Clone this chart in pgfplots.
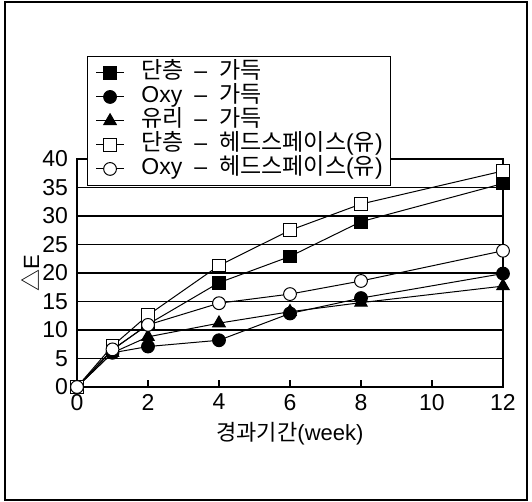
\documentclass[border=0pt]{standalone}
\usepackage{fontspec}
\setmainfont{Liberation Sans}
\newfontfamily\kr{Noto Sans CJK KR}
\usepackage{pgfplots}
\pgfplotsset{compat=1.18}
\newcommand{\ent}[2]{\hspace*{8.5pt}\makebox[26.5pt][l]{#1}--\hspace{6pt}{\kr #2}}
\begin{document}
\begin{tikzpicture}
\begin{axis}[
  scale only axis, width=213pt, height=114pt,
  xmin=0, xmax=12, ymin=0, ymax=40,
  xtick={0,2,...,12}, ytick={0,5,...,40},
  ymajorgrids, grid style={black, line width=0.75pt},
  axis line style={line width=0.75pt},
  xtick pos=bottom, tick align=inside, major tick length=3.5pt,
  xtick style={black, line width=0.6pt},
  ytick style={draw=none},
  tick label style={font=\fontsize{11.5}{12}\selectfont},
  yticklabel style={xshift=-1pt},
  /pgf/number format/assume math mode=true,
  clip=false,
  xlabel={{\kr 경과기간}(week)},
  ylabel={{\kr △}E},
  label style={font=\fontsize{11}{12}\selectfont},
  xlabel style={at={(axis description cs:0.5,-0.206)}, anchor=center},
  ylabel style={at={(axis description cs:-0.110,0.5)}, anchor=center},
  legend style={at={(0.0235,1.452)}, anchor=north west, draw=black, line width=0.6pt,
    font=\fontsize{11.5}{11.5}\selectfont, inner xsep=4pt, inner ysep=2.5pt, row sep=0.6pt,
    nodes={inner sep=0pt, text height=8.6pt, text depth=2.8pt}},
  legend cell align=left,
  legend image code/.code={\draw[mark repeat=2,mark phase=2] plot coordinates {(0cm,0cm)(0.245cm,0cm)(0.49cm,0cm)};},
  every axis plot/.append style={black, line width=0.5pt, mark size=3.2pt},
]
\addplot[mark=square*, mark options={solid, fill=black}] coordinates {(0,0)(1,6.5)(2,11)(4,18.3)(6,22.9)(8,29)(12,35.7)};
\addlegendentry{\ent{{\kr 단층}}{가득}}
\addplot[mark=*, mark options={solid, fill=black}] coordinates {(0,0)(1,6)(2,7.1)(4,8.2)(6,12.9)(8,15.6)(12,19.9)};
\addlegendentry{\ent{Oxy}{가득}}
\addplot[mark=triangle*, mark size=3.6pt, mark options={solid, fill=black}] coordinates {(0,0)(1,6)(2,8.8)(4,11.2)(6,13.2)(8,14.8)(12,17.7)};
\addlegendentry{\ent{{\kr 유리}}{가득}}
\addplot[mark=square*, mark options={solid, fill=white}] coordinates {(0,0)(1,7.2)(2,12.6)(4,21.3)(6,27.5)(8,32.1)(12,37.9)};
\addlegendentry{\ent{{\kr 단층}}{헤드스페이스}({\kr 유})}
\addplot[mark=*, mark options={solid, fill=white}] coordinates {(0,0)(1,6.6)(2,10.9)(4,14.7)(6,16.3)(8,18.6)(12,23.9)};
\addlegendentry{\ent{Oxy}{헤드스페이스}({\kr 유})}
\end{axis}
\path[use as bounding box] ([shift={(-38.5pt,-57.5pt)}]current axis.south west) rectangle ([shift={(227.5pt,193.5pt)}]current axis.south west);
\draw[line width=0.8pt] ([shift={(-36pt,-56.5pt)}]current axis.south west) rectangle ([shift={(225pt,192.5pt)}]current axis.south west);
\end{tikzpicture}
\end{document}
